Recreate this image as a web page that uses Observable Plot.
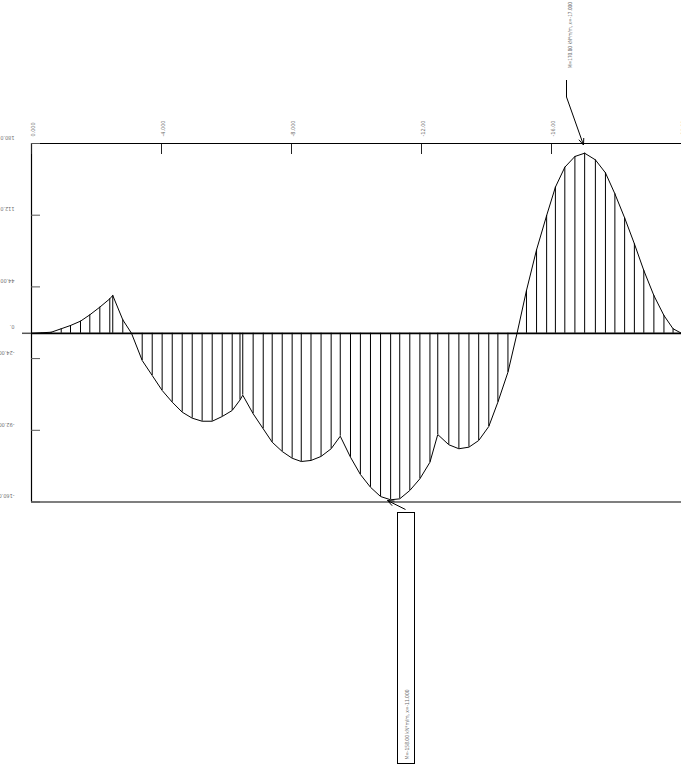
<!DOCTYPE html>
<html>
<head>
<meta charset="utf-8">
<script src="https://cdn.jsdelivr.net/npm/d3@7"></script>
<script src="https://cdn.jsdelivr.net/npm/@observablehq/plot@0.6"></script>
<style>
  html, body { margin: 0; padding: 0; background: #fff; }
  #chart svg { display: block; }
</style>
</head>
<body>
<div id="chart"></div>
<script>
// distance along the member (m, negative direction) and bending moment (kN*m/m)
const xs = [0, -0.31, -0.606, -0.914, -1.2, -1.508, -1.794, -2.102, -2.409, -2.5,
  -2.809, -3.077, -3.406, -3.714, -4.02, -4.33, -4.637, -4.945, -5.25, -5.56,
  -5.868, -6.175, -6.415, -6.5, -6.82, -7.13, -7.406, -7.714, -8.02, -8.3,
  -8.6, -8.91, -9.22, -9.5, -9.815, -10.12, -10.43, -10.74, -11.05, -11.33,
  -11.64, -11.95, -12.26, -12.5, -12.84, -13.15, -13.46, -13.76, -14.07, -14.35,
  -14.66, -14.94, -15.23, -15.54, -15.85, -16.12, -16.41, -16.72, -17.02, -17.35,
  -17.66, -17.95, -18.25, -18.55, -18.84, -19.15, -19.46, -19.74, -20];
const moments = [0, 0.5, 1.0, 4.3, 7.4, 11.5, 17.5, 24.8, 32.7, 35.9,
  12.8, 0, -25.8, -40, -54.2, -65.3, -74.8, -80.5, -83.4, -83.4,
  -78.9, -73.2, -63.3, -58.7, -76.3, -90.6, -103.3, -112.1, -118.5, -121.6,
  -120.6, -116.8, -109.5, -97.6, -117.5, -133.9, -146, -154.8, -157.9, -157,
  -149.1, -138, -122.3, -96, -105.7, -109.5, -108, -101.7, -88.4, -65.3,
  -36.9, 0, 40.6, 79.2, 111.7, 138.6, 157.5, 167.7, 170.8, 164.5,
  152.2, 132.3, 109.5, 84.9, 59.6, 35.8, 16.9, 4.3, 0];

const xTicks = [0, -4, -8, -12, -16, -20];
const xTickLabels = ["0.000", "-4.000", "-8.000", "-12.00", "-16.00", "-20.00"];
const yTicks = [180, 112, 44, -24, -92, -160];
const yTickLabels = ["180.0", "112.0", "44.00", "-24.00", "-92.00", "-160.0"];
const zeroLabel = "0.";

const maxPoint = {x: -17, m: 170.8, label: "M=170.80 kN*m/m, x=-17.000"};
const minPoint = {x: -11, m: -158.0, label: "M=-158.00 kN*m/m, x=-11.000"};

const data = xs.map((x, i) => ({x, m: moments[i]}));
const yLab = yTicks.map((v, i) => ({v, t: yTickLabels[i]}));
const xLab = xTicks.map((v, i) => ({v, t: xTickLabels[i]}));

const font = "'DejaVu Sans Condensed', 'DejaVu Sans', sans-serif";
const lab = "#6e6e6e";

const plot = Plot.plot({
  width: 681,
  height: 767,
  marginLeft: 31,
  marginRight: 0,
  marginTop: 143,
  marginBottom: 265.5,
  style: {fontFamily: font, background: "#fff"},
  x: {domain: [0, -20], axis: null},
  y: {domain: [-160, 180], axis: null},
  marks: [
    // hatching
    Plot.ruleX(data, {x: "x", y1: 0, y2: "m", stroke: "#000", strokeWidth: 1}),
    // moment curve
    Plot.line(data, {x: "x", y: "m", stroke: "#000", strokeWidth: 1}),
    // frame: top, bottom, left
    Plot.ruleY([180, -160], {stroke: "#000", strokeWidth: 1.2}),
    Plot.ruleX([0], {stroke: "#000", strokeWidth: 1.2}),
    // zero line
    Plot.ruleY([0], {stroke: "#000", strokeWidth: 1.8}),
    // tick marks (pointing inward)
    Plot.axisX({anchor: "top", ticks: xTicks, tickSize: 10, dy: 10, tickFormat: () => "", stroke: "#222"}),
    Plot.axisY({anchor: "left", ticks: yTicks, tickSize: 9, dx: 9, tickFormat: () => "", stroke: "#555"}),
    Plot.axisY({anchor: "left", ticks: [0], tickSize: 9, tickFormat: () => "", stroke: "#555", strokeWidth: 1.5}),
    // tick labels
    Plot.text(xLab, {x: "v", frameAnchor: "top", dy: -7, rotate: -90, textAnchor: "start",
      text: "t", fontSize: 5.5, fill: lab}),
    Plot.text(yLab, {y: "v", frameAnchor: "left", dx: -17, dy: -6, rotate: 180,
      text: "t", fontSize: 5.5, fill: lab}),
    Plot.text([0], {y: d => d, frameAnchor: "left", dx: -17, dy: -7, rotate: 180,
      text: () => zeroLabel, fontSize: 5.5, fill: lab})
  ]
});

document.getElementById("chart").appendChild(plot);

// annotations anchored to the extreme points
const sx = plot.scale("x"), sy = plot.scale("y");
const svg = d3.select(plot);
const g = svg.append("g").attr("fill", "none").attr("stroke", "#000").attr("stroke-width", 1);

function head(px, py, angle) {
  const a1 = angle + Math.PI * 0.88, a2 = angle - Math.PI * 0.88, L = 7;
  g.append("path").attr("d",
    `M${px + L * Math.cos(a1)},${py + L * Math.sin(a1)}L${px},${py}L${px + L * Math.cos(a2)},${py + L * Math.sin(a2)}`);
}

// maximum: arrow onto the top frame
{
  const tx = sx.apply(maxPoint.x), ty = sy.apply(180) + 2;
  const kx = tx - 17, ky = ty - 48;
  g.append("path").attr("d", `M${kx},${ky - 17}L${kx},${ky}L${tx},${ty}`);
  head(tx, ty, Math.atan2(ty - ky, tx - kx));
  svg.append("text")
    .attr("transform", `translate(${kx + 4},${ky - 29}) rotate(-90)`)
    .attr("text-anchor", "start").attr("dy", "0.32em")
    .attr("font-size", 5.5).attr("font-family", font).attr("fill", lab)
    .attr("textLength", 66).attr("lengthAdjust", "spacingAndGlyphs")
    .text(maxPoint.label);
}

// minimum: arrow onto the bottom frame, label in a box
{
  const tx = sx.apply(minPoint.x) - 1, ty = sy.apply(-160) - 1;
  const kx = tx + 18, ky = ty + 9;
  g.append("path").attr("d", `M${kx},${ky}L${tx},${ty}`);
  head(tx, ty, Math.atan2(ty - ky, tx - kx));
  g.append("rect").attr("x", tx + 10).attr("y", ty + 12).attr("width", 17).attr("height", 251)
    .attr("stroke-width", 1);
  svg.append("text")
    .attr("transform", `translate(${tx + 20},${ty + 259}) rotate(-90)`)
    .attr("text-anchor", "start").attr("dy", "0.32em")
    .attr("font-size", 5.5).attr("font-family", font).attr("fill", lab)
    .attr("textLength", 70).attr("lengthAdjust", "spacingAndGlyphs")
    .text(minPoint.label);
}
</script>
</body>
</html>
